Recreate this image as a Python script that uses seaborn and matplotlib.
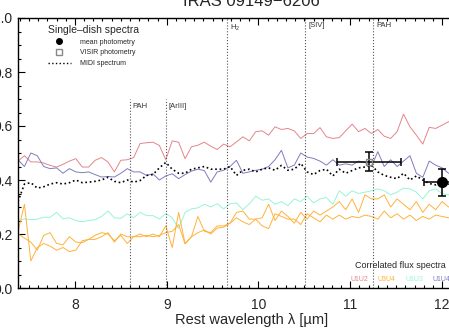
import numpy as np
import pandas as pd
import seaborn as sns
import matplotlib.pyplot as plt
from matplotlib.lines import Line2D
from matplotlib.ticker import MultipleLocator

# wavelength grid of the spectra (micron)
wavelength = np.round(7.38 + 0.07 * np.arange(70), 2)

# correlated flux spectra
u1u2 = [.47, .49, .467, .467, .463, .454, .448, .458, .47, .479,
        .448, .448, .473, .483, .467, .43, .473, .475, .483, .535,
        .538, .54, .528, .475, .545, .54, .479, .523, .529, .54,
        .525, .513, .533, .523, .541, .56, .545, .579, .582, .566,
        .597, .587, .591, .582, .554, .572, .572, .594, .56, .554,
        .557, .582, .607, .579, .591, .572, .587, .562, .554, .579,
        .644, .597, .566, .533, .595, .591, .603, .616, .60, .62]
u1u4 = [.475, .45, .50, .49, .45, .442, .445, .425, .442, .43,
        .427, .43, .42, .411, .413, .411, .425, .442, .43, .43,
        .417, .423, .40, .415, .423, .405, .42, .433, .44, .435,
        .392, .43, .436, .45, .473, .425, .43, .436, .44, .45,
        .475, .51, .445, .455, .50, .485, .48, .47, .455, .475,
        .455, .46, .455, .47, .465, .45, .505, .45, .475, .45,
        .47, .49, .425, .41, .47, .455, .445, .425, .43, .42]
u1u3 = [.25, .256, .253, .255, .262, .262, .28, .256, .26, .25,
        .245, .25, .253, .265, .285, .26, .258, .275, .26, .28,
        .268, .268, .256, .276, .26, .22, .28, .293, .297, .31,
        .30, .312, .293, .312, .315, .29, .312, .34, .325, .33,
        .31, .32, .305, .33, .32, .34, .315, .33, .335, .31,
        .36, .34, .36, .35, .355, .36, .367, .36, .345, .355,
        .37, .367, .355, .33, .36, .367, .35, .345, .35, .36]
u3u4 = [.21, .31, .10, .15, .165, .155, .14, .15, .135, .14,
        .175, .18, .195, .205, .20, .175, .195, .165, .19, .20,
        .19, .20, .19, .23, .15, .28, .165, .19, .265, .21,
        .205, .23, .23, .24, .28, .285, .255, .255, .26, .31,
        .25, .285, .265, .24, .28, .255, .285, .27, .285, .30,
        .32, .29, .33, .28, .345, .33, .33, .345, .30, .33,
        .31, .29, .32, .28, .31, .29, .32, .30, .31, .30]
u2u3 = [.20, .185, .17, .14, .195, .205, .165, .16, .19, .17,
        .168, .18, .18, .19, .205, .17, .20, .19, .19, .19,
        .195, .19, .195, .205, .21, .235, .163, .19, .205, .215,
        .20, .222, .225, .24, .26, .245, .235, .255, .23, .22,
        .275, .265, .255, .255, .235, .275, .26, .245, .27, .255,
        .27, .255, .265, .26, .27, .265, .255, .285, .26, .275,
        .255, .27, .25, .265, .255, .27, .265, .26, .26, .27]

# single-dish MIDI spectrum
midi = [.32, .385, .39, .37, .375, .385, .39, .385, .39, .40,
        .39, .392, .395, .40, .41, .395, .39, .40, .392, .398,
        .417, .42, .445, .465, .44, .425, .425, .44, .445, .45,
        .44, .44, .44, .45, .417, .436, .44, .43, .44, .445,
        .436, .454, .436, .44, .462, .43, .42, .435, .44, .415,
        .44, .425, .435, .445, .448, .455, .43, .417, .41, .405,
        .425, .40, .415, .40, .387, .382, .39, .385, .39, .385]

# photometry
mean_wl, mean_flux, mean_xerr, mean_yerr = [12.0], [0.392], [0.2], [0.05]
visir_wl, visir_flux, visir_xerr, visir_yerr = [11.2], [0.467], [0.35], [0.035]

# emission features
feat_wl = [8.6, 8.99, 9.66, 10.51, 11.25]
feat_names = ['PAH', '[ArIII]', 'H$_2$', '[SIV]', 'PAH']
feat_top = [0.70, 0.70, 1.0, 1.0, 1.0]

baselines = ['U1U2', 'U3U4', 'U1U3', 'U1U4']
colors = {'U1U2': '#e3868a', 'U3U4': '#ffb23a', 'U2U3': '#ffb23a',
          'U1U3': '#98f5d6', 'U1U4': '#7f7cc0'}

sns.set_style('ticks')
plt.rcParams['font.family'] = ['Liberation Sans', 'DejaVu Sans']
plt.rcParams['mathtext.fontset'] = 'custom'
plt.rcParams['mathtext.rm'] = 'Liberation Sans'

df = pd.DataFrame({'wavelength': wavelength, 'U1U2': u1u2, 'U1U3': u1u3,
                   'U2U3': u2u3, 'U3U4': u3u4, 'U1U4': u1u4})
df = df.melt(id_vars='wavelength', var_name='baseline', value_name='flux')

fig = plt.figure(figsize=(4.49, 3.29), dpi=100)
ax = fig.add_axes([18 / 449, 41 / 329, 466.3 / 449, 270 / 329])

sns.lineplot(data=df, x='wavelength', y='flux', hue='baseline', palette=colors,
             lw=0.7, legend=False, ax=ax)
sns.lineplot(x=wavelength, y=midi, color='black', ls=':', lw=1.2, ax=ax)

# line markers
for wl, name, top in zip(feat_wl, feat_names, feat_top):
    ax.vlines(wl, 0, top, colors='#555555', linestyles=':', lw=0.8)
    ax.text(wl + 0.03, top - 0.015, name, fontsize=5.5, color='#333333',
            va='top', ha='left')

ax.errorbar(visir_wl, visir_flux, xerr=visir_xerr, yerr=visir_yerr, fmt='s',
            mfc='none', mec='#888888', ms=5, ecolor='black', elinewidth=1.1,
            capsize=3, capthick=1.1)
ax.errorbar(mean_wl, mean_flux, xerr=mean_xerr, yerr=mean_yerr, fmt='o',
            color='black', ms=7, elinewidth=1.1, capsize=3, capthick=1.1)

ax.set_xlim(7.38, 12.46)
ax.set_ylim(0, 1.0)
ax.xaxis.set_major_locator(MultipleLocator(1))
ax.xaxis.set_minor_locator(MultipleLocator(0.1))
ax.yaxis.set_major_locator(MultipleLocator(0.2))
ax.yaxis.set_minor_locator(MultipleLocator(0.05))
ax.tick_params(which='both', direction='in', top=True, right=True, width=0.8,
               labelsize=10, color='black')
ax.tick_params(which='major', length=5)
ax.tick_params(which='minor', length=2.5)
ax.tick_params(axis='x', pad=7)
ax.tick_params(axis='y', pad=4)
for s in ax.spines.values():
    s.set_linewidth(1.0)
    s.set_color('black')

ax.set_xlabel('Rest wavelength λ [µm]', fontsize=10.5, labelpad=1)
ax.set_ylabel('')
ax.set_title('IRAS 09149\u22126206', fontsize=12, pad=9)

# single-dish legend
handles = [Line2D([], [], marker='o', ls='none', color='black', ms=4),
           Line2D([], [], marker='s', ls='none', mfc='none', mec='#888888', ms=4),
           Line2D([], [], ls=':', color='black', lw=1)]
ax.legend(handles, ['mean photometry', 'VISIR photometry', 'MIDI spectrum'],
          title='Single\u2013dish spectra', title_fontsize=7.5, fontsize=5,
          loc='upper left', bbox_to_anchor=(0.065, 0.975), frameon=False,
          borderpad=0, borderaxespad=0, handlelength=3.2, handletextpad=1.4,
          labelspacing=0.55, alignment='left')

# correlated flux labels
ax.text(0.7227, 0.083, 'Correlated flux spectra', fontsize=6.5,
        transform=ax.transAxes, va='center', ha='left')
for name, fx in zip(baselines, [0.712, 0.770, 0.830, 0.888]):
    ax.text(fx, 0.030, name, fontsize=5, color=colors[name],
            transform=ax.transAxes, va='center', ha='left')

fig.savefig('out.png', dpi=100)
